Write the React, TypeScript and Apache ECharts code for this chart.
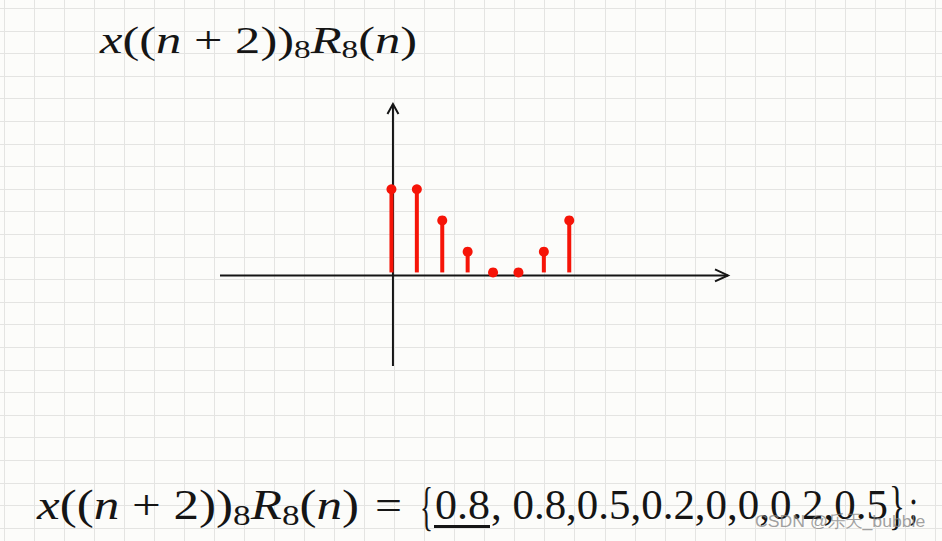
import React, { useEffect, useRef } from 'react';
import * as echarts from 'echarts';

const W = 942;
const H = 541;

// data
const sampleIndex = [0, 1, 2, 3, 4, 5, 6, 7];
const sampleValues = [0.8, 0.8, 0.5, 0.2, 0, 0, 0.2, 0.5];
const nAxisRange = [-6.75, 13.25];
const valueAxisRange = [-0.9, 1.62];
const watermarkText = 'CSDN @乐天_bubble';
// expression x((n+2))_8 R_8(n) as [style, text] tokens
const exprTokens: [string, string][] = [
  ['i', 'x'], ['r', '(('], ['i', 'n'], ['r', ' + 2))'], ['s', '8'],
  ['i', 'R'], ['s', '8'], ['r', '('], ['i', 'n'], ['r', ')'],
];

const SERIF = '"Liberation Serif", "Times New Roman", serif';
const SANS = '"Liberation Sans", Arial, sans-serif';
const INK = '#151515';
const RED = '#f61408';
const PAPER = '#fcfcfa';
const GRIDLINE = '#e4e4e2';

let measureCtx: CanvasRenderingContext2D | null = null;
function textWidth(text: string, font: string): number {
  if (!measureCtx) measureCtx = document.createElement('canvas').getContext('2d');
  measureCtx!.font = font;
  return measureCtx!.measureText(text).width;
}

function exprElement(left: number, cy: number, targetW: number, main: number, sub: number, mainLH: number, subLH: number, z: number) {
  const rich = {
    i: { fontFamily: SERIF, fontStyle: 'italic', fontSize: main, lineHeight: mainLH, fill: INK },
    r: { fontFamily: SERIF, fontStyle: 'normal', fontSize: main, lineHeight: mainLH, fill: INK },
    s: { fontFamily: SERIF, fontStyle: 'normal', fontSize: sub, lineHeight: subLH, verticalAlign: 'bottom', fill: INK },
  };
  const text = exprTokens.map(([s, t]) => `{${s}|${t}}`).join('');
  const w = exprTokens.reduce((acc, [s, t]) => {
    const f = `${s === 'i' ? 'italic ' : ''}${s === 's' ? sub : main}px ${SERIF}`;
    return acc + textWidth(t, f);
  }, 0);
  return {
    type: 'text', x: left, y: cy, scaleX: targetW / w, z, silent: true,
    style: { text, rich, font: `${main}px ${SERIF}`, fill: INK, align: 'left', verticalAlign: 'middle' },
  };
}

function plainText(text: string, left: number, cy: number, targetW: number, size: number, z: number, scaleY = 1, family = SERIF, fill = INK) {
  const font = `${size}px ${family}`;
  const w = textWidth(text, font);
  return {
    type: 'text', x: left, y: cy, scaleX: targetW / w, scaleY, z, silent: true,
    style: { text, font, fill, align: 'left', verticalAlign: 'middle' },
  };
}

export default function App() {
  const ref = useRef<HTMLDivElement>(null);
  useEffect(() => {
    const chart = echarts.init(ref.current!, null, { renderer: 'svg', width: W, height: H });
    const pts = sampleIndex.map((n, i) => [n, sampleValues[i]]);
    chart.setOption({
      animation: false,
      backgroundColor: PAPER,
      grid: { left: 220, top: 104, width: 508, height: 262, containLabel: false },
      xAxis: { type: 'value', min: nAxisRange[0], max: nAxisRange[1], show: false },
      yAxis: { type: 'value', min: valueAxisRange[0], max: valueAxisRange[1], show: false },
      series: [
        { type: 'bar', data: pts, barWidth: 4, itemStyle: { color: RED }, z: 3, silent: true },
        { type: 'scatter', data: pts, symbol: 'circle', symbolSize: 10, itemStyle: { color: RED, opacity: 1 }, z: 4, silent: true },
      ],
    });

    const [x0, y0] = chart.convertToPixel({ gridIndex: 0 }, [0, 0]) as number[];
    const [xL, yT] = chart.convertToPixel({ gridIndex: 0 }, [nAxisRange[0], valueAxisRange[1]]) as number[];
    const [xR, yB] = chart.convertToPixel({ gridIndex: 0 }, [nAxisRange[1], valueAxisRange[0]]) as number[];
    const axisX = x0 + 1.5;
    const axisY = y0 + 3;

    const elements: any[] = [];
    // grid paper
    for (let gx = 3.5; gx < W; gx += 30.05) {
      const px = Math.round(gx) + 0.5;
      elements.push({ type: 'line', z: -10, silent: true, shape: { x1: px, y1: 0, x2: px, y2: H }, style: { stroke: GRIDLINE, lineWidth: 1 } });
    }
    for (let gy = 8; gy < H; gy += 22.6) {
      const py = Math.round(gy) + 0.5;
      elements.push({ type: 'line', z: -10, silent: true, shape: { x1: 0, y1: py, x2: W, y2: py }, style: { stroke: GRIDLINE, lineWidth: 1 } });
    }
    // axes with open arrow heads
    const axisStyle = { stroke: INK, lineWidth: 2, fill: null };
    elements.push({ type: 'line', z: 1, silent: true, shape: { x1: xL, y1: axisY, x2: xR, y2: axisY }, style: axisStyle });
    elements.push({ type: 'polyline', z: 1, silent: true, shape: { points: [[xR - 13, axisY - 6], [xR, axisY], [xR - 13, axisY + 6]] }, style: axisStyle });
    elements.push({ type: 'line', z: 1, silent: true, shape: { x1: axisX, y1: yT, x2: axisX, y2: yB }, style: axisStyle });
    elements.push({ type: 'polyline', z: 1, silent: true, shape: { points: [[axisX - 5.5, yT + 10], [axisX, yT], [axisX + 5.5, yT + 10]] }, style: axisStyle });

    // title
    elements.push(exprElement(100, 40, 317, 38, 25, 44, 20, 5));

    // bottom formula
    const first = String(sampleValues[0]);
    const rest = ', ' + sampleValues.slice(1).map(String).join(',');
    elements.push(exprElement(37, 505, 322, 42, 29, 50, 28, 5));
    elements.push(plainText('=', 375, 505, 27, 42, 5));
    elements.push(plainText('{', 420, 506, 13, 44, 5, 1.2));
    elements.push(plainText(first, 435, 505, 55, 42, 5));
    elements.push({ type: 'line', z: 5, silent: true, shape: { x1: 434, y1: 526.5, x2: 490, y2: 526.5 }, style: { stroke: INK, lineWidth: 3 } });
    elements.push(plainText(rest, 491, 505, 397, 42, 5));
    elements.push(plainText('}', 889, 506, 16, 44, 5, 1.2));
    elements.push(plainText(';', 909, 505, 9, 42, 5));

    // watermark
    elements.push(plainText(watermarkText, 755, 521, 171, 17, 8, 1, SANS, 'rgba(130,130,130,0.75)'));

    chart.setOption({ graphic: { elements } });
    return () => chart.dispose();
  }, []);
  return <div ref={ref} style={{ position: 'fixed', left: 0, top: 0, width: W, height: H }} />;
}
